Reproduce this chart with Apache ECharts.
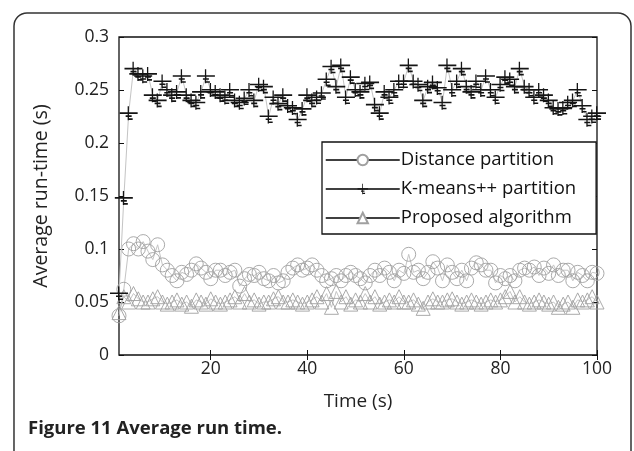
<!DOCTYPE html>
<html>
<head>
<meta charset="utf-8">
<script src="https://cdn.jsdelivr.net/npm/echarts@6/dist/echarts.min.js"></script>
<style>
  html, body { margin: 0; padding: 0; background: #fff; }
  #main { width: 634px; height: 451px; }
</style>
</head>
<body>
<div id="main"></div>
<script>
/*#############  数据  ###############*/
var seriesNames = ["Distance partition", "K-means++ partition", "Proposed algorithm"];
var xTicks = [20, 40, 60, 80, 100];
// 平均运行时间 (s), t = 1..100
var distance = [
  0.037, 0.062, 0.100, 0.105, 0.100, 0.107, 0.098, 0.090, 0.104, 0.085,
  0.080, 0.075, 0.070, 0.078, 0.076, 0.080, 0.086, 0.082, 0.078, 0.072,
  0.080, 0.080, 0.075, 0.078, 0.080, 0.065, 0.072, 0.076, 0.075, 0.078,
  0.072, 0.070, 0.075, 0.068, 0.070, 0.078, 0.082, 0.085, 0.080, 0.082,
  0.085, 0.080, 0.075, 0.070, 0.072, 0.075, 0.070, 0.075, 0.078, 0.075,
  0.072, 0.068, 0.075, 0.080, 0.075, 0.082, 0.078, 0.070, 0.080, 0.077,
  0.095, 0.078, 0.080, 0.072, 0.078, 0.088, 0.082, 0.070, 0.085, 0.078,
  0.072, 0.080, 0.070, 0.082, 0.087, 0.085, 0.080, 0.080, 0.068, 0.075,
  0.072, 0.075, 0.070, 0.080, 0.082, 0.080, 0.083, 0.075, 0.082, 0.077,
  0.085, 0.075, 0.080, 0.080, 0.070, 0.078, 0.075, 0.070, 0.078, 0.077
];
var kmeans = [
  0.058, 0.148, 0.228, 0.270, 0.265, 0.263, 0.265, 0.245, 0.240, 0.258,
  0.250, 0.245, 0.248, 0.263, 0.245, 0.240, 0.238, 0.248, 0.263, 0.250,
  0.248, 0.245, 0.243, 0.250, 0.240, 0.238, 0.242, 0.250, 0.240, 0.255,
  0.253, 0.225, 0.243, 0.237, 0.245, 0.235, 0.233, 0.222, 0.232, 0.245,
  0.240, 0.243, 0.247, 0.260, 0.272, 0.253, 0.273, 0.243, 0.262, 0.250,
  0.248, 0.256, 0.257, 0.236, 0.228, 0.248, 0.243, 0.250, 0.258, 0.258,
  0.273, 0.258, 0.255, 0.240, 0.253, 0.257, 0.252, 0.238, 0.273, 0.250,
  0.258, 0.270, 0.253, 0.248, 0.258, 0.250, 0.263, 0.250, 0.243, 0.255,
  0.262, 0.260, 0.253, 0.270, 0.253, 0.250, 0.243, 0.250, 0.245, 0.240,
  0.233, 0.232, 0.233, 0.238, 0.240, 0.250, 0.235, 0.222, 0.225, 0.228
];
var proposed = [
  0.040, 0.055, 0.050, 0.058, 0.053, 0.050, 0.050, 0.053, 0.055, 0.050,
  0.048, 0.050, 0.052, 0.048, 0.050, 0.046, 0.052, 0.050, 0.048, 0.053,
  0.050, 0.048, 0.050, 0.052, 0.055, 0.050, 0.058, 0.050, 0.052, 0.048,
  0.050, 0.050, 0.053, 0.055, 0.050, 0.050, 0.052, 0.050, 0.048, 0.050,
  0.052, 0.055, 0.050, 0.058, 0.045, 0.060, 0.050, 0.055, 0.048, 0.052,
  0.050, 0.058, 0.050, 0.055, 0.048, 0.050, 0.052, 0.050, 0.055, 0.050,
  0.050, 0.052, 0.048, 0.044, 0.050, 0.053, 0.050, 0.050, 0.052, 0.053,
  0.050, 0.048, 0.050, 0.052, 0.050, 0.048, 0.050, 0.052, 0.050, 0.052,
  0.055, 0.060, 0.050, 0.055, 0.050, 0.048, 0.050, 0.052, 0.050, 0.048,
  0.050, 0.045, 0.048, 0.050, 0.045, 0.052, 0.050, 0.052, 0.055, 0.050
];

// 把数组转成 [t, y] 点对，t 从 1 开始
function toPoints(arr) {
  var out = [];
  for (var i = 0; i < arr.length; i++) {
    out.push([i + 1, arr[i]]);
  }
  return out;
}

var FONT = "Open Sans";
// K-means++ 的标记：加号 + 下方短横
var kmSymbol = "path://M0,6 L18,6 L18,7.6 L0,7.6 Z M8,0 L9.3,0 L9.3,14 L8,14 Z M6,9 L12,9 L12,10.6 L6,10.6 Z M8,12 L13,12 L13,13.6 L8,13.6 Z";

// 图例：线为黑色，空心标记填白
var legendItems = [
  { name: seriesNames[0], itemStyle: { color: "#fff", borderColor: "#a0a0a0" } },
  { name: seriesNames[1] },
  { name: seriesNames[2], itemStyle: { color: "#fff", borderColor: "#a0a0a0" } },
];

var myChart = echarts.init(document.getElementById("main"));
var option = {
  backgroundColor: "#fff",
  animation: false,
  textStyle: { fontFamily: FONT },
  grid: {
    left: 119,
    top: 37,
    width: 478,
    height: 318,
    show: true,
    borderColor: "#111",
    borderWidth: 1.3,
  },
  legend: {
    orient: "vertical",
    left: 322,
    top: 142,
    data: legendItems,
    itemWidth: 74,
    itemHeight: 13,
    itemGap: 7,
    padding: [7, 20, 5, 3],
    borderColor: "#111",
    borderWidth: 1.3,
    backgroundColor: "#fff",
    lineStyle: { color: "#000", width: 1.5, opacity: 1 },
    textStyle: { fontFamily: FONT, fontSize: 18.5, color: "#111", lineHeight: 22, padding: [0, 0, 0, -4] },
  },
  xAxis: [
    {
      type: "value",
      min: 1,
      max: 100,
      name: "Time (s)",
      nameLocation: "middle",
      nameGap: 37,
      nameTextStyle: { fontSize: 19, color: "#222", fontFamily: FONT },
      axisLine: { show: false },
      splitLine: { show: false },
      axisTick: { inside: true, length: 5, lineStyle: { color: "#111" }, customValues: xTicks },
      axisLabel: { fontSize: 17.5, color: "#222", margin: 5, customValues: xTicks },
    },
    {
      type: "value",
      position: "top",
      min: 1,
      max: 100,
      axisLine: { show: false },
      splitLine: { show: false },
      axisTick: { inside: true, length: 5, lineStyle: { color: "#111" }, customValues: xTicks },
      axisLabel: { show: false },
    },
  ],
  yAxis: [
    {
      type: "value",
      min: 0,
      max: 0.3,
      interval: 0.05,
      name: "Average run-time (s)",
      nameLocation: "middle",
      nameGap: 68,
      nameTextStyle: { fontSize: 19.5, color: "#222", fontFamily: FONT },
      axisLine: { show: false },
      splitLine: { show: false },
      axisTick: { inside: true, length: 5, lineStyle: { color: "#111" } },
      axisLabel: {
        fontSize: 17.5,
        color: "#222",
        margin: 10,
        formatter: function (v) { return String(+v.toFixed(2)); },
      },
    },
    {
      type: "value",
      position: "right",
      min: 0,
      max: 0.3,
      interval: 0.05,
      axisLine: { show: false },
      splitLine: { show: false },
      axisTick: { inside: true, length: 5, lineStyle: { color: "#111" } },
      axisLabel: { show: false },
    },
  ],
  series: [
    {
      name: seriesNames[0],
      type: "line",
      data: toPoints(distance),
      symbol: "circle",
      symbolSize: 14,
      lineStyle: { color: "#c4c4c4", width: 1 },
      itemStyle: { color: "rgba(255,255,255,0)", borderColor: "#a0a0a0", borderWidth: 0.9 },
      z: 2,
    },
    {
      name: seriesNames[1],
      type: "line",
      data: toPoints(kmeans),
      symbol: kmSymbol,
      symbolSize: [18, 14],
      lineStyle: { color: "#c4c4c4", width: 1 },
      itemStyle: { color: "#151515" },
      z: 3,
    },
    {
      name: seriesNames[2],
      type: "line",
      data: toPoints(proposed),
      symbol: "triangle",
      symbolSize: 14,
      lineStyle: { color: "#c4c4c4", width: 1 },
      itemStyle: { color: "rgba(255,255,255,0)", borderColor: "#a0a0a0", borderWidth: 0.9 },
      z: 2,
    },
  ],
  graphic: [
    {
      type: "rect",
      shape: { x: 14, y: 13, width: 617, height: 470, r: 13 },
      style: { fill: "none", stroke: "#333", lineWidth: 1.5 },
      silent: true,
    },
    {
      type: "text",
      left: 28,
      top: 419,
      style: {
        text: "Figure 11 Average run time.",
        fontFamily: FONT,
        fontSize: 18.5,
        fontWeight: "bold",
        fill: "#222",
      },
    },
  ],
};
if (option && typeof option === "object") {
  myChart.setOption(option, true);
}
</script>
</body>
</html>
